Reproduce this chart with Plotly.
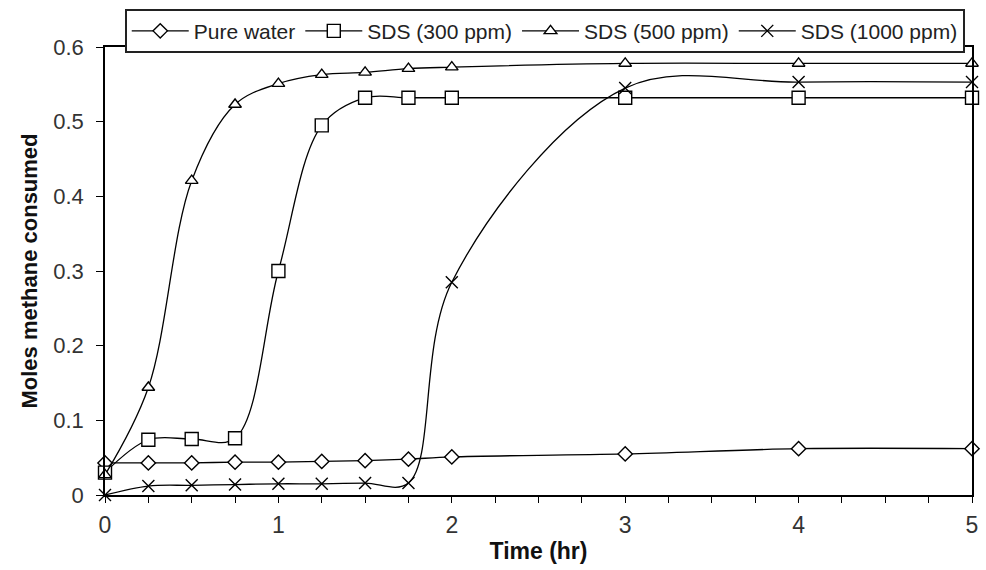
import plotly.graph_objects as go

# Sampling times (hr)
time_hr = [0, 0.25, 0.5, 0.75, 1.0, 1.25, 1.5, 1.75, 2, 3, 4, 5]

# Moles of methane consumed for each solution
pure_water = [0.043, 0.043, 0.043, 0.044, 0.044, 0.045, 0.046, 0.048, 0.051, 0.055, 0.062, 0.062]
sds_300 = [0.030, 0.074, 0.075, 0.076, 0.300, 0.495, 0.532, 0.532, 0.532, 0.532, 0.532, 0.532]
sds_500 = [0.027, 0.144, 0.421, 0.523, 0.551, 0.563, 0.566, 0.571, 0.573, 0.578, 0.578, 0.578]
sds_1000 = [0.000, 0.012, 0.013, 0.014, 0.015, 0.015, 0.016, 0.016, 0.285, 0.545, 0.553, 0.553]

series_names = ["Pure water", "SDS (300 ppm)", "SDS (500 ppm)", "SDS (1000 ppm)"]
series_values = [pure_water, sds_300, sds_500, sds_1000]
symbols = ["diamond", "square", "triangle-up", "x-thin"]
sizes = [11, 13, 11, 12]

FONT = "Liberation Sans, Arial, sans-serif"

fig = go.Figure()
for name, vals, sym, sz in zip(series_names, series_values, symbols, sizes):
    fig.add_trace(go.Scatter(
        x=time_hr, y=vals, name=name,
        mode="lines+markers",
        line=dict(color="black", width=1.3, shape="spline", smoothing=1.0),
        marker=dict(symbol=sym, size=sz, color="white",
                    line=dict(color="black", width=1.4)),
        cliponaxis=False,
    ))

fig.update_layout(
    width=986, height=570,
    margin=dict(l=105, r=8, t=47, b=75),
    paper_bgcolor="white", plot_bgcolor="white",
    font=dict(family=FONT, color="black"),
    showlegend=True,
    legend=dict(
        orientation="h",
        x=0.023, xanchor="left",
        y=1.085, yanchor="top",
        bgcolor="white",
        bordercolor="#222", borderwidth=1.8,
        font=dict(size=21, family=FONT, color="#222"),
        itemwidth=57,
        tracegroupgap=0,
    ),
    xaxis=dict(
        range=[0, 5], dtick=1, tick0=0,
        showgrid=False, zeroline=False,
        showline=True, linecolor="black", linewidth=1.5, mirror=True,
        ticks="outside", ticklen=6, tickcolor="black", tickwidth=1.2,
        minor=dict(dtick=0.25, ticks="outside", ticklen=6, tickcolor="black", tickwidth=1.2, showgrid=False),
        ticklabelstandoff=3,
        tickfont=dict(size=23, color="#333"),
        title=dict(text="<b>Time (hr)</b>", font=dict(size=23, color="#111"), standoff=6),
    ),
    yaxis=dict(
        range=[0, 0.6], dtick=0.1, tick0=0,
        showgrid=False, zeroline=False,
        showline=True, linecolor="black", linewidth=1.5, mirror=True,
        ticks="outside", ticklen=7, tickcolor="black", tickwidth=1.2,
        ticklabelstandoff=8,
        tickfont=dict(size=22, color="#333"),
        title=dict(text="<b>Moles methane consumed</b>", font=dict(size=22, color="#111"), standoff=10),
    ),
)

fig.write_html("out.html")
